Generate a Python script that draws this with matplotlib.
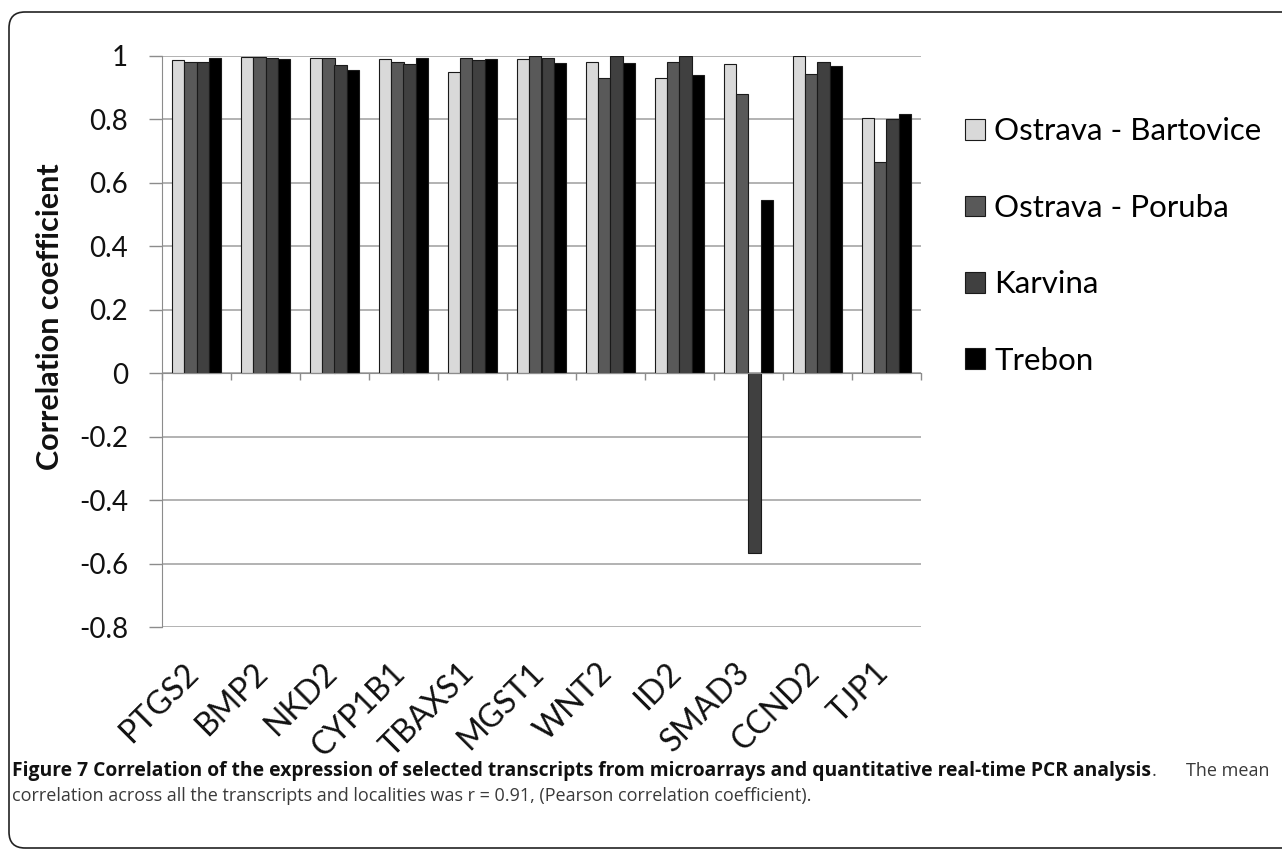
import numpy as np
import matplotlib
matplotlib.use('Agg')
from matplotlib import pyplot as plt
from matplotlib.patches import FancyBboxPatch
from matplotlib.transforms import IdentityTransform

# data
genes = ['PTGS2', 'BMP2', 'NKD2', 'CYP1B1', 'TBAXS1', 'MGST1',
         'WNT2', 'ID2', 'SMAD3', 'CCND2', 'TJP1']
bartovice = [0.986, 0.998, 0.993, 0.992, 0.948, 0.992, 0.981, 0.930, 0.976, 0.999, 0.806]
poruba = [0.980, 0.998, 0.993, 0.982, 0.993, 0.999, 0.930, 0.981, 0.881, 0.944, 0.665]
karvina = [0.980, 0.994, 0.972, 0.976, 0.986, 0.994, 1.000, 1.000, -0.568, 0.982, 0.800]
trebon = [0.995, 0.989, 0.955, 0.995, 0.989, 0.978, 0.977, 0.939, 0.547, 0.967, 0.818]

series = [('Ostrava - Bartovice', bartovice, '#d9d9d9'),
          ('Ostrava - Poruba', poruba, '#595959'),
          ('Karvina', karvina, '#404040'),
          ('Trebon', trebon, '#000000')]
yticks = [1, 0.8, 0.6, 0.4, 0.2, 0, -0.2, -0.4, -0.6, -0.8]

W, H = 1282, 851
fig = plt.figure(figsize=(W / 100, H / 100), dpi=100, facecolor='white')

# rounded frame round the whole figure
frame = FancyBboxPatch((9, 3), 1320, 836, boxstyle='round,pad=0,rounding_size=16',
                       transform=IdentityTransform(), facecolor='none',
                       edgecolor='#222222', linewidth=1.2)
fig.patches.append(frame)

ax = fig.add_axes([162 / W, 1 - 627 / H, (921 - 162) / W, (627 - 56) / H])

x = np.arange(len(genes))
bw = 0.18
for k, (name, vals, col) in enumerate(series):
    ax.bar(x + (k - 1.5) * bw, vals, bw, color=col, edgecolor='#1a1a1a',
           linewidth=0.8, label=name, zorder=3)

ax.set_xlim(-0.5, len(genes) - 0.5)
ax.set_ylim(-0.8, 1)
ax.set_yticks(yticks)
ax.set_yticklabels(['1', '0.8', '0.6', '0.4', '0.2', '0', '-0.2', '-0.4', '-0.6', '-0.8'])
ax.yaxis.grid(True, color='#a6a6a6', linewidth=1.2, zorder=0)
ax.tick_params(axis='y', direction='out', length=9.5, width=1, color='#8c8c8c',
               labelsize=20, pad=15, labelcolor='#111111')

for s in ['top', 'right']:
    ax.spines[s].set_visible(False)
ax.spines['left'].set_color('#8c8c8c')
ax.spines['bottom'].set_position(('data', 0))
ax.spines['bottom'].set_color('#8c8c8c')
ax.spines['bottom'].set_zorder(4)
ax.set_xticks(np.arange(len(genes) + 1) - 0.5)
ax.set_xticklabels([])
ax.tick_params(axis='x', direction='out', length=5, width=1, color='#8c8c8c')

for i, g in enumerate(genes):
    ax.text(i - 0.04, -0.93, g, rotation=45, rotation_mode='anchor', ha='right',
            va='center', fontsize=23, family='Lato', color='#111111', clip_on=False)

for t in ax.get_yticklabels():
    t.set_family('Lato')

fig.text(50 / W, 1 - 317 / H, 'Correlation coefficient', rotation=90, ha='center',
         va='center', fontsize=22, fontweight='bold', family='Lato', color='#111111')

leg = fig.legend(loc='upper left', bbox_to_anchor=(952 / W, 1 - 105 / H), frameon=False,
                 prop={'family': 'Lato', 'size': 22.5}, handlelength=0.65, handleheight=0.65,
                 handletextpad=0.3, labelspacing=1.55, borderaxespad=0)

cap_y1 = 1 - 771 / H
cap_y2 = 1 - 796 / H
fig.text(12 / W, cap_y1, 'Figure 7 Correlation of the expression of selected transcripts '
         'from microarrays and quantitative real-time PCR analysis',
         fontsize=13.9, fontweight='bold', family='Open Sans', va='center', color='#111111')
fig.text(1152 / W, cap_y1, '.', fontsize=13, family='Open Sans', ha='left',
         va='center', color='#3a3a3a')
fig.text(1270 / W, cap_y1, 'The mean', fontsize=13, family='Open Sans', ha='right',
         va='center', color='#3a3a3a')
fig.text(12 / W, cap_y2, 'correlation across all the transcripts and localities was '
         'r = 0.91, (Pearson correlation coefficient).',
         fontsize=13, family='Open Sans', va='center', color='#3a3a3a')

fig.savefig('out.png', dpi=100, facecolor='white')
